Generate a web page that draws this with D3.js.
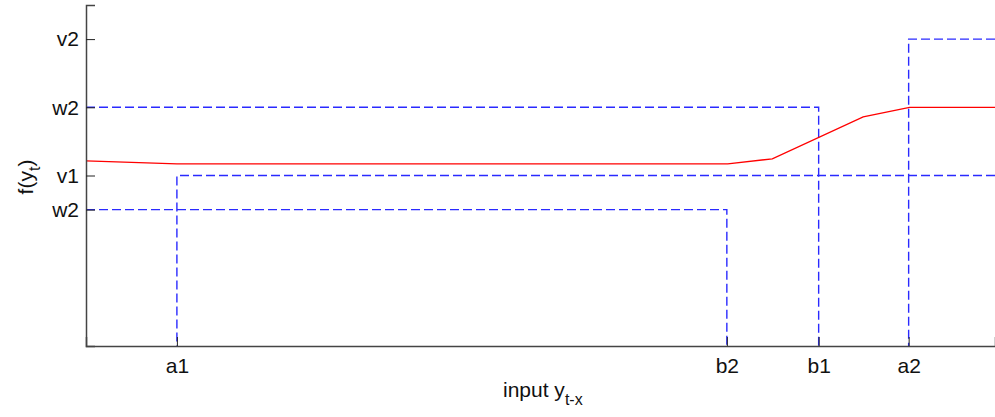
<!doctype html>
<html>
<head>
<meta charset="utf-8">
<script src="https://cdn.jsdelivr.net/npm/d3@7"></script>
<style>
  body { margin: 0; background: #fff; }
  text { font-family: "Liberation Sans", Arial, sans-serif; fill: #111; }
</style>
</head>
<body>
<script>
// tick positions (data units)
var xTicks = [10, 70.5, 80.6, 90.5];
var xTickLabels = ["a1", "b2", "b1", "a2"];
var yTicks = [0.9, 0.7, 0.5, 0.4];
var yTickLabels = ["v2", "w2", "v1", "w2"];

// red response curve
var curveX = [0, 10, 70.6, 75.5, 85.5, 90.6, 100];
var curveY = [0.543, 0.534, 0.534, 0.549, 0.672, 0.70, 0.70];

// blue dashed step outlines
var steps = [
  { x: [0, 80.6, 80.6], y: [0.7, 0.7, 0] },
  { x: [100, 90.5, 90.5], y: [0.9, 0.9, 0] },
  { x: [100, 10, 10], y: [0.5, 0.5, 0] },
  { x: [0, 70.5, 70.5], y: [0.4, 0.4, 0] }
];

var W = 995, H = 417;
var margin = {top: 5, right: 0, bottom: 71, left: 86};

var svg = d3.select("body").append("svg")
  .attr("width", W).attr("height", H);

var x = d3.scaleLinear().domain([0, 100]).range([margin.left, W - margin.right]);
var y = d3.scaleLinear().domain([0, 1]).range([H - margin.bottom, margin.top]);

var line = d3.line().x(d => x(d[0])).y(d => y(d[1]));

// dashed steps
steps.forEach(function(s) {
  svg.append("path")
    .datum(s.x.map((v, i) => [v, s.y[i]]))
    .attr("d", line)
    .attr("fill", "none")
    .attr("stroke", "#2a2aff")
    .attr("stroke-width", 1.4)
    .attr("stroke-dasharray", "9,4");
});

// red line
svg.append("path")
  .datum(curveX.map((v, i) => [v, curveY[i]]))
  .attr("d", line)
  .attr("fill", "none")
  .attr("stroke", "#ff0000")
  .attr("stroke-width", 1.3);

// x axis
var xAxis = svg.append("g")
  .attr("transform", "translate(0," + y(0) + ")")
  .call(d3.axisBottom(x).tickValues(xTicks)
    .tickFormat((d, i) => xTickLabels[i]).tickSize(-9).tickPadding(12));
xAxis.select(".domain").attr("stroke", "#444").attr("stroke-width", 1.5);
xAxis.selectAll(".tick line").attr("stroke", "#222");
xAxis.selectAll(".tick text").style("font-size", "21px").attr("fill", "#111");

// y axis
var yAxis = svg.append("g")
  .attr("transform", "translate(" + x(0) + ",0)")
  .call(d3.axisLeft(y).tickValues(yTicks)
    .tickFormat((d, i) => yTickLabels[i]).tickSize(-9).tickPadding(7));
yAxis.select(".domain").attr("stroke", "#444").attr("stroke-width", 1.5);
yAxis.selectAll(".tick line").attr("stroke", "#222");
yAxis.selectAll(".tick text").style("font-size", "21px").attr("fill", "#111");

// axis titles
var xt = svg.append("text")
  .attr("x", 503).attr("y", 397)
  .style("font-size", "21px");
xt.append("tspan").text("input y");
xt.append("tspan").attr("dy", 8).style("font-size", "16px").text("t-x");

var yt = svg.append("text")
  .attr("transform", "translate(33,177) rotate(-90)")
  .attr("text-anchor", "middle")
  .style("font-size", "21px");
yt.append("tspan").text("f(y");
yt.append("tspan").attr("dy", 7).style("font-size", "16px").text("t");
yt.append("tspan").attr("dy", -7).text(")");
</script>
</body>
</html>
